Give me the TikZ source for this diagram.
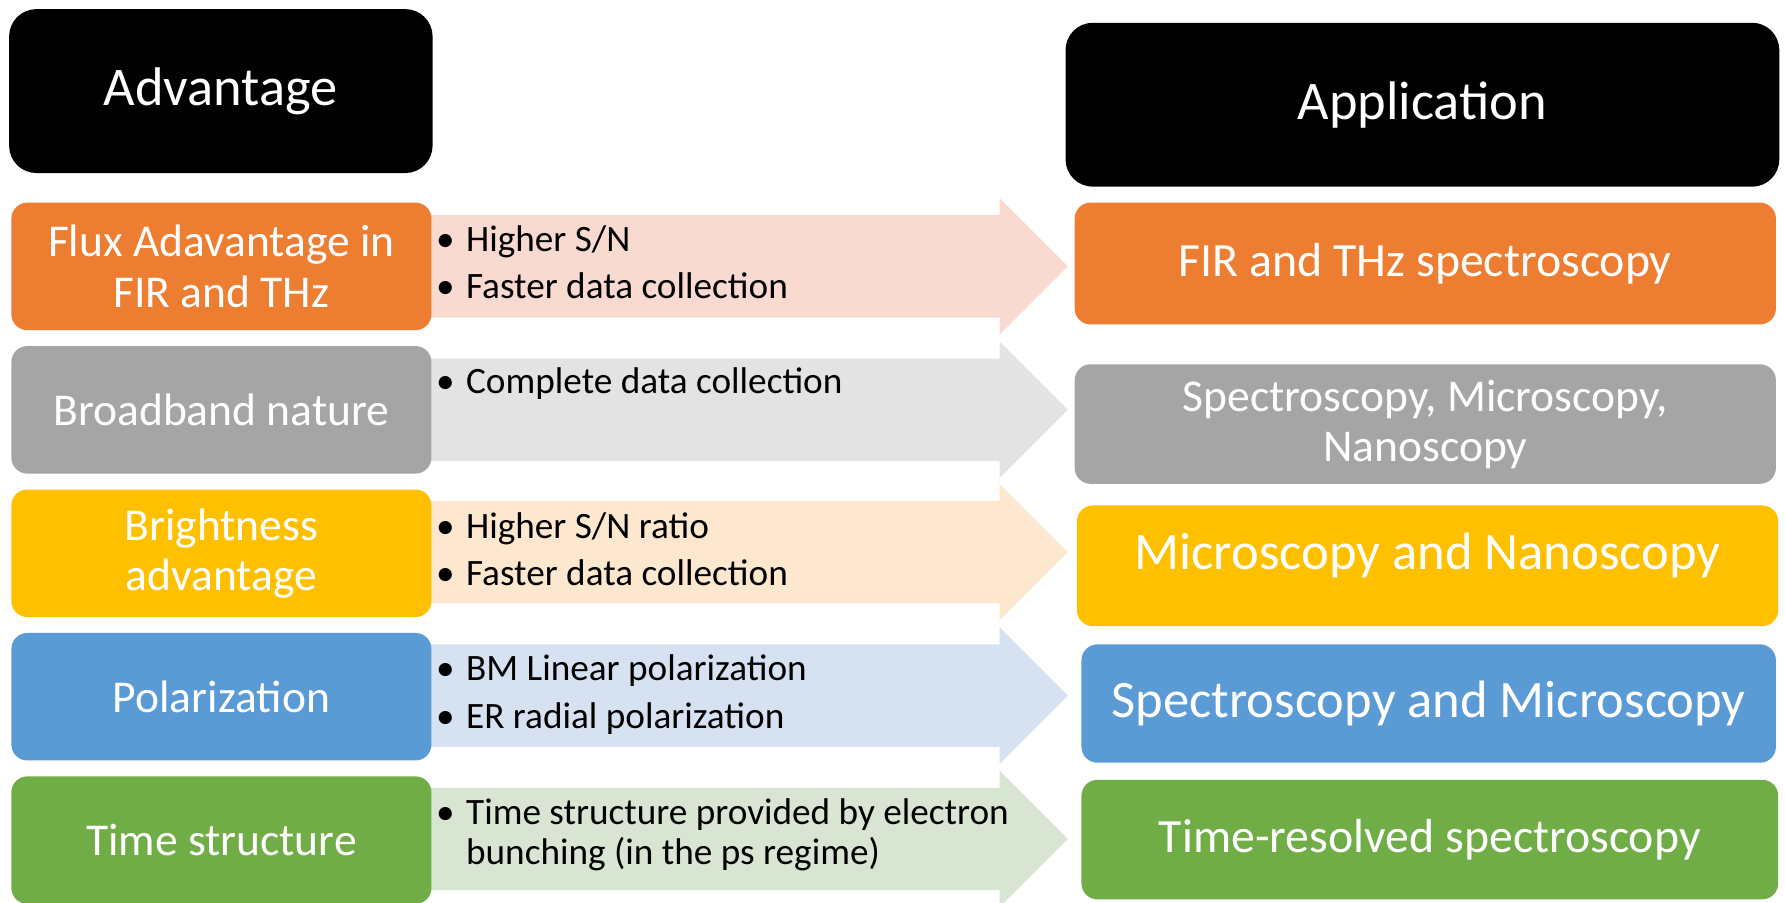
\documentclass[tikz,border=0pt]{standalone}
\usepackage{fontspec}
\setmainfont{Carlito}
\usetikzlibrary{calc}
\pgfdeclarelayer{paper}
\pgfdeclarelayer{arrows}
\pgfsetlayers{paper,arrows,main}

\definecolor{cOrange}{HTML}{ED7D31}
\definecolor{cGray}{HTML}{A5A5A5}
\definecolor{cYellow}{HTML}{FFC000}
\definecolor{cBlue}{HTML}{5B9BD5}
\definecolor{cGreen}{HTML}{70AD47}
\definecolor{tOrange}{HTML}{F8DAD0}
\definecolor{tGray}{HTML}{E3E3E3}
\definecolor{tYellow}{HTML}{FDE7CF}
\definecolor{tBlue}{HTML}{D6E1F1}
\definecolor{tGreen}{HTML}{D9E5D3}

% block arrow from a left card towards a tip coordinate
\newcommand\feedarrow[3]{%
  \fill[#3] let \p1=(#1.center), \p2=(#2) in
    (\x1,\y2+45bp) -- (\x2-60bp,\y2+45bp) -- (\x2-60bp,\y2+60bp) -- (\x2,\y2)
    -- (\x2-60bp,\y2-60bp) -- (\x2-60bp,\y2-45bp) -- (\x1,\y2-45bp) -- cycle;}

\begin{document}
\begin{tikzpicture}[x=1bp,y=-1bp,
  card/.style={shape=rectangle, rounded corners=14bp, inner sep=0pt, align=center, text=white},
  headcard/.style={card, fill=black, rounded corners=24bp, minimum height=144bp,
    font=\fontsize{47.8bp}{52bp}\selectfont},
  leftcard/.style={card, minimum width=369bp, minimum height=112bp,
    font=\fontsize{40bp}{44bp}\selectfont},
  rightcard/.style={card, font=\fontsize{42bp}{44bp}\selectfont},
  bigtext/.style={font=\fontsize{46.2bp}{50bp}\selectfont},
  notes/.style={anchor=base west, inner sep=0pt, text=black,
    font=\fontsize{32.7bp}{35.5bp}\selectfont},
]
\useasboundingbox (0,0) rectangle (1568,793);
\begin{pgfonlayer}{paper}
  \fill[white] (0,0) rectangle (1568,793);
\end{pgfonlayer}

% column headings
\node[headcard, minimum width=372bp] (advhead) at (194,80) {Advantage};
\node[headcard, minimum width=627bp] (apphead) at (1249.5,92) {Application};

% advantages
\node[leftcard, fill=cOrange] (l1) at (194.5,234) {Flux Adavantage in\\FIR and THz};
\node[leftcard, fill=cGray]   (l2) at (194.5,360) {Broadband nature};
\node[leftcard, fill=cYellow] (l3) at (194.5,486) {Brightness\\advantage};
\node[leftcard, fill=cBlue]   (l4) at (194.5,612) {Polarization};
\node[leftcard, fill=cGreen]  (l5) at (194.5,738) {Time structure};

% applications
\node[rightcard, fill=cOrange, minimum width=616bp, minimum height=107bp] (r1) at (1252,231.5)
  {FIR and THz spectroscopy};
\node[rightcard, fill=cGray, minimum width=616bp, minimum height=105bp,
  font=\fontsize{40bp}{44bp}\selectfont] (r2) at (1252,372.5)
  {Spectroscopy, Microscopy,\\Nanoscopy};
\node[rightcard, bigtext, fill=cYellow, minimum width=616bp, minimum height=106bp,
  text depth=25bp] (r3) at (1254,497) {Microscopy and Nanoscopy};
\node[rightcard, bigtext, fill=cBlue, minimum width=610bp, minimum height=104bp] (r4) at (1255,618)
  {Spectroscopy and Microscopy};
\node[rightcard, fill=cGreen, minimum width=612bp, minimum height=105bp] (r5) at (1256,737.5)
  {Time-resolved spectroscopy};

% arrow tips
\coordinate (t1) at (938,234);
\coordinate (t2) at (938,360);
\coordinate (t3) at (938,485);
\coordinate (t4) at (938,611);
\coordinate (t5) at (938,737);

\begin{pgfonlayer}{arrows}
  \feedarrow{l1}{t1}{tOrange}
  \feedarrow{l2}{t2}{tGray}
  \feedarrow{l3}{t3}{tYellow}
  \feedarrow{l4}{t4}{tBlue}
  \feedarrow{l5}{t5}{tGreen}
\end{pgfonlayer}

% bullet notes on the arrows
\node[notes] (n1) at ($(t1)+(-555,-13)$) {\begin{tabular}[t]{@{}l@{\hspace{10bp}}l@{}}
  •&Higher S/N\\[6bp] •&Faster data collection\end{tabular}};
\node[notes] (n2) at ($(t2)+(-555,-14)$) {\begin{tabular}[t]{@{}l@{\hspace{10bp}}l@{}}
  •&Complete data collection\end{tabular}};
\node[notes] (n3) at ($(t3)+(-555,-12)$) {\begin{tabular}[t]{@{}l@{\hspace{10bp}}l@{}}
  •&Higher S/N ratio\\[6bp] •&Faster data collection\end{tabular}};
\node[notes] (n4) at ($(t4)+(-555,-13)$) {\begin{tabular}[t]{@{}l@{\hspace{10bp}}l@{}}
  •&BM Linear polarization\\[6bp] •&ER radial polarization\end{tabular}};
\node[notes] (n5) at ($(t5)+(-555,-13)$) {\begin{tabular}[t]{@{}l@{\hspace{10bp}}l@{}}
  •&Time structure provided by electron\\ &bunching (in the ps regime)\end{tabular}};
\end{tikzpicture}
\end{document}
